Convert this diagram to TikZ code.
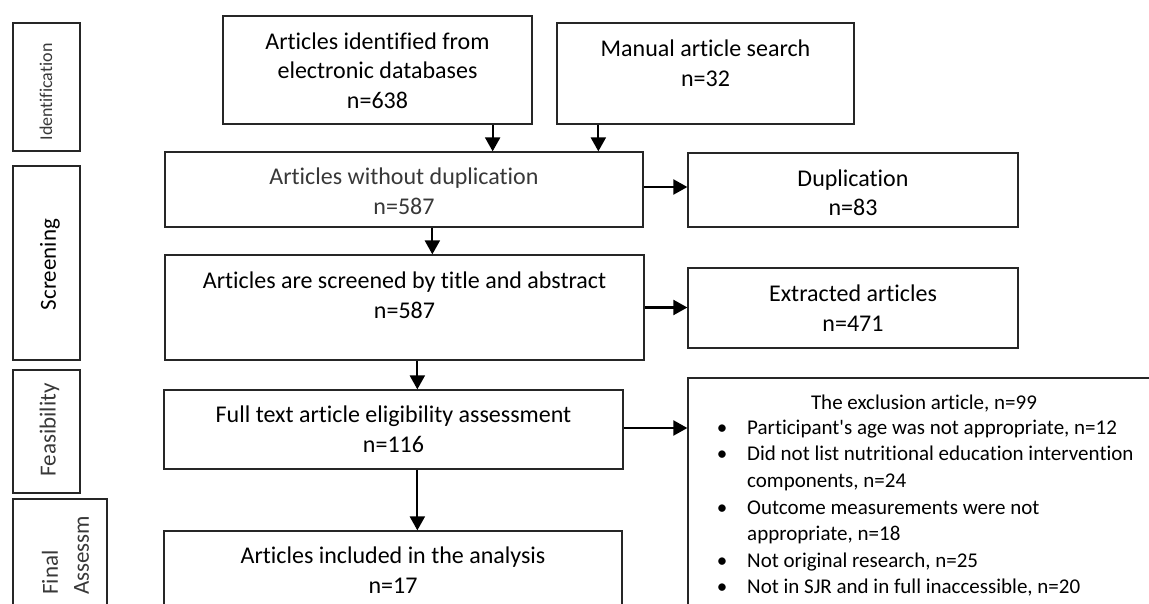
\documentclass[tikz,border=0pt]{standalone}
\usepackage{fontspec}
\defaultfontfeatures{}
\setmainfont{Carlito}[Ligatures=NoCommon]
\usetikzlibrary{arrows.meta}
\begin{document}
\begin{tikzpicture}[x=1pt,y=-1pt,
  box/.style={draw=black!85, line width=1.3pt, inner sep=0pt},
  main/.style={align=center, inner sep=0pt, font=\fontsize{24}{29.5}\selectfont},
  side/.style={rotate=90, inner sep=0pt},
  light/.style={text=black!78},
  arr/.style={line width=2.2pt, -{Triangle[length=14pt,width=15pt]}}]
\useasboundingbox (0,0) rectangle (1149,603);
\clip (0,0) rectangle (1149,603);
\fill[white] (0,0) rectangle (1149,603);

% side stage boxes
\node[box, minimum width=67pt, minimum height=128pt] (sI) at (46.5,87) {};
\node[box, minimum width=67pt, minimum height=194pt] (sS) at (46.5,263) {};
\node[box, minimum width=67pt, minimum height=123pt] (sF) at (46.5,431.5) {};
\node[box, minimum width=94pt, minimum height=151pt] (sA) at (60,574.5) {};
\node[side, light, font=\fontsize{18}{22}\selectfont] (sIt) at (46,92) {Identification};
\node[side, font=\fontsize{23}{28}\selectfont] (sSt) at (50,264.5) {Screening};
\node[side, light, font=\fontsize{23}{28}\selectfont] (sFt) at (49.5,430) {Feasibility};
\node[side, light, align=left, anchor=north west, font=\fontsize{23}{31}\selectfont] (sAt) at (36,595) {Final\strut\\Assessm\strut};

% main boxes
\node[box, minimum width=309pt, minimum height=108pt] (A) at (377.5,70) {};
\node[box, minimum width=297pt, minimum height=101pt] (B) at (705.5,73.5) {};
\node[box, minimum width=478pt, minimum height=75pt] (C) at (404,189.5) {};
\node[box, minimum width=479pt, minimum height=105pt] (D) at (404.5,307.5) {};
\node[box, minimum width=459pt, minimum height=79pt] (E) at (393.5,429.5) {};
\node[box, minimum width=458pt, minimum height=119pt] (F) at (393,590.5) {};
\node[box, minimum width=330pt, minimum height=74pt] (Dup) at (853,190) {};
\node[box, minimum width=330pt, minimum height=80pt] (Ext) at (853,308) {};
\node[box, minimum width=562pt, minimum height=272pt] (Exc) at (969,514) {};

\node[main] (At) at (377.5,73) {Articles identified from\strut\\electronic databases\strut\\n=638\strut};
\node[main] (Bt) at (705.5,65.5) {Manual article search\strut\\n=32\strut};
\node[main, light] (Ct) at (404,193.5) {Articles without duplication\strut\\n=587\strut};
\node[main] (Dt) at (404.5,297.5) {Articles are screened by title and abstract\strut\\n=587\strut};
\node[main] (Et) at (393.5,431.5) {Full text article eligibility assessment\strut\\n=116\strut};
\node[main] (Ft) at (393,572.5) {Articles included in the analysis\strut\\n=17\strut};
\node[main] (Dupt) at (853,195) {Duplication\strut\\n=83\strut};
\node[main] (Extt) at (853,310.5) {Extracted articles\strut\\n=471\strut};

\node[inner sep=0pt, font=\fontsize{21}{26.6}\selectfont] (Exct) at (924,404) {The exclusion article, n=99\strut};
\node[inner sep=0pt, anchor=north west, font=\fontsize{21}{26.6}\selectfont] (Excl) at (697,415.5) {%
\begin{tabular}{@{}l@{}l@{}}
\makebox[50pt]{\textbullet} & Participant\textquotesingle s age was not appropriate, n=12\\
\makebox[50pt]{\textbullet} & Did not list nutritional education intervention\\
 & components, n=24\\
\makebox[50pt]{\textbullet} & Outcome measurements were not\\
 & appropriate, n=18\\
\makebox[50pt]{\textbullet} & Not original research, n=25\\
\makebox[50pt]{\textbullet} & Not in SJR and in full inaccessible, n=20\\
\end{tabular}};

% connectors
\draw[arr] ([xshift=-40pt]A.south east) -- ([xshift=-40pt]A.south east |- C.north);
\draw[arr] ([xshift=42pt]B.south west) -- ([xshift=42pt]B.south west |- C.north);
\draw[arr] ([xshift=268pt]C.south west) -- ([xshift=268pt]C.south west |- D.north);
\draw[arr] ([xshift=253pt]D.south west) -- ([xshift=253pt]D.south west |- E.north);
\draw[arr] ([xshift=254pt]E.south west) -- ([xshift=254pt]E.south west |- F.north);
\draw[arr] ([yshift=2.5pt]C.east) -- ([yshift=2.5pt]C.east -| Dup.west);
\draw[arr] (D.east) -- (D.east -| Ext.west);
\draw[arr] ([yshift=1.5pt]E.east) -- ([yshift=1.5pt]E.east -| Exc.west);
\end{tikzpicture}
\end{document}
